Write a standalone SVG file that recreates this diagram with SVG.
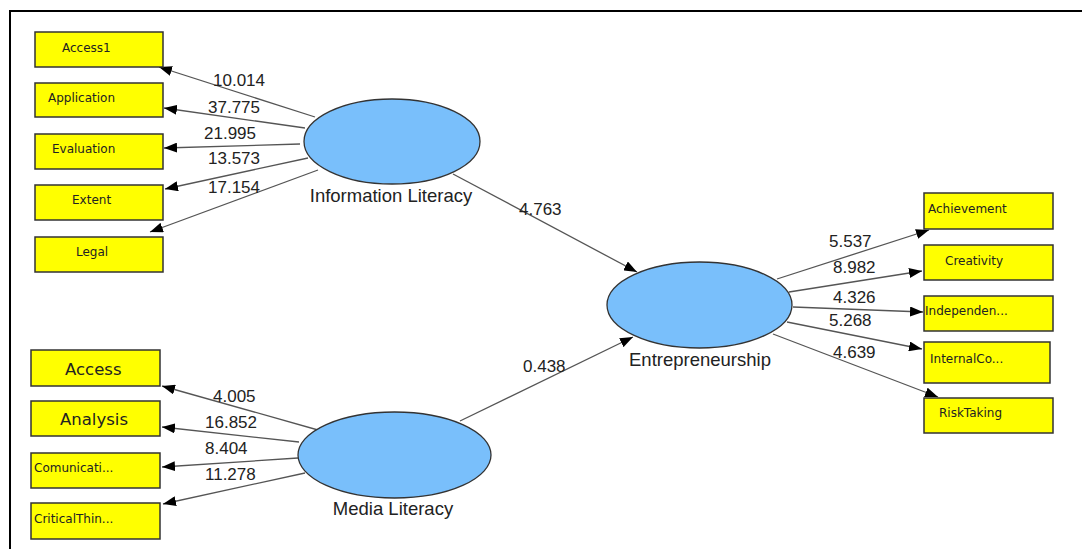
<svg xmlns="http://www.w3.org/2000/svg" width="1082" height="549" viewBox="0 0 1082 549">
<defs>
<marker id="arr" viewBox="0 0 13 10" refX="13" refY="5" markerWidth="13" markerHeight="10" markerUnits="userSpaceOnUse" orient="auto">
<path d="M0,0 L13,5 L0,10 z" fill="#000"/>
</marker>
<style>
.box{fill:#ffff00;stroke:#333;stroke-width:1.5}
.lv{fill:#79bffb;stroke:#333;stroke-width:1.3}
.bt{font-family:"DejaVu Sans",Verdana,sans-serif;font-size:12px;fill:#222}
.bl{font-family:"DejaVu Sans",Verdana,sans-serif;font-size:16.5px;fill:#222}
.nl{font-family:"Liberation Sans",Arial,sans-serif;font-size:18.5px;fill:#222}
.el{font-family:"Liberation Sans",Arial,sans-serif;font-size:17px;fill:#222}
.c line{stroke:#555;stroke-width:1.3;marker-end:url(#arr)}
</style>
</defs>
<rect width="1082" height="549" fill="#fff"/>
<path d="M10,549 V11 H1082" fill="none" stroke="#000" stroke-width="2"/>

<g id="connectors" class="c">
<line x1="315" y1="117" x2="159" y2="67"/>
<line x1="305" y1="128" x2="164" y2="108"/>
<line x1="300" y1="144" x2="164" y2="148"/>
<line x1="308" y1="158" x2="165" y2="189"/>
<line x1="318" y1="170" x2="150" y2="232"/>
<line x1="318" y1="430" x2="162" y2="386"/>
<line x1="299" y1="442" x2="162" y2="427"/>
<line x1="298" y1="458" x2="162" y2="467"/>
<line x1="305" y1="473" x2="163" y2="504"/>
<line x1="453" y1="174" x2="637" y2="272"/>
<line x1="460" y1="421" x2="633" y2="337"/>
<line x1="777" y1="279" x2="929" y2="230"/>
<line x1="789" y1="292" x2="922" y2="271"/>
<line x1="793" y1="307" x2="923" y2="312"/>
<line x1="787" y1="322" x2="922" y2="349"/>
<line x1="773" y1="334" x2="938" y2="397"/>
</g>

<g id="edge-labels">
<text class="el" x="213" y="86">10.014</text>
<text class="el" x="208" y="113">37.775</text>
<text class="el" x="204" y="139">21.995</text>
<text class="el" x="208" y="164">13.573</text>
<text class="el" x="208" y="193">17.154</text>
<text class="el" x="213" y="402">4.005</text>
<text class="el" x="205" y="428">16.852</text>
<text class="el" x="205" y="454">8.404</text>
<text class="el" x="205" y="480">11.278</text>
<text class="el" x="519" y="215">4.763</text>
<text class="el" x="523" y="372">0.438</text>
<text class="el" x="829" y="247">5.537</text>
<text class="el" x="833" y="273">8.982</text>
<text class="el" x="833" y="303">4.326</text>
<text class="el" x="829" y="326">5.268</text>
<text class="el" x="833" y="358">4.639</text>
</g>

<g id="information-literacy">
<ellipse class="lv" cx="392" cy="141.5" rx="88" ry="42.5"/>
<text class="nl" x="391" y="202" text-anchor="middle">Information Literacy</text>
</g>
<g id="media-literacy">
<ellipse class="lv" cx="394.5" cy="455" rx="96.5" ry="43"/>
<text class="nl" x="393" y="515" text-anchor="middle">Media Literacy</text>
</g>
<g id="entrepreneurship">
<ellipse class="lv" cx="699.5" cy="305" rx="92.5" ry="43"/>
<text class="nl" x="700" y="366" text-anchor="middle">Entrepreneurship</text>
</g>

<g id="access1"><rect class="box" x="35" y="32" width="128" height="35"/><text class="bt" x="62" y="52">Access1</text></g>
<g id="application"><rect class="box" x="35" y="83" width="128" height="34"/><text class="bt" x="48" y="102">Application</text></g>
<g id="evaluation"><rect class="box" x="35" y="134" width="128" height="35"/><text class="bt" x="52" y="153">Evaluation</text></g>
<g id="extent"><rect class="box" x="35" y="185" width="128" height="35"/><text class="bt" x="72" y="204">Extent</text></g>
<g id="legal"><rect class="box" x="35" y="237" width="128" height="35"/><text class="bt" x="76" y="256">Legal</text></g>

<g id="access"><rect class="box" x="31" y="350" width="129" height="36"/><text class="bl" x="65" y="375">Access</text></g>
<g id="analysis"><rect class="box" x="31" y="401" width="129" height="35"/><text class="bl" x="60" y="425">Analysis</text></g>
<g id="comunicati"><rect class="box" x="31" y="453" width="129" height="35"/><text class="bt" x="34" y="472">Comunicati...</text></g>
<g id="criticalthin"><rect class="box" x="31" y="503" width="129" height="36"/><text class="bt" x="34" y="523">CriticalThin...</text></g>

<g id="achievement"><rect class="box" x="924" y="193" width="129" height="36"/><text class="bt" x="928" y="213">Achievement</text></g>
<g id="creativity"><rect class="box" x="924" y="245" width="129" height="35"/><text class="bt" x="945" y="265">Creativity</text></g>
<g id="independen"><rect class="box" x="924" y="296" width="129" height="35"/><text class="bt" x="925" y="315">Independen...</text></g>
<g id="internalco"><rect class="box" x="924" y="342" width="126" height="41"/><text class="bt" x="930" y="363">InternalCo...</text></g>
<g id="risktaking"><rect class="box" x="924" y="398" width="129" height="35"/><text class="bt" x="939" y="417">RiskTaking</text></g>
</svg>
